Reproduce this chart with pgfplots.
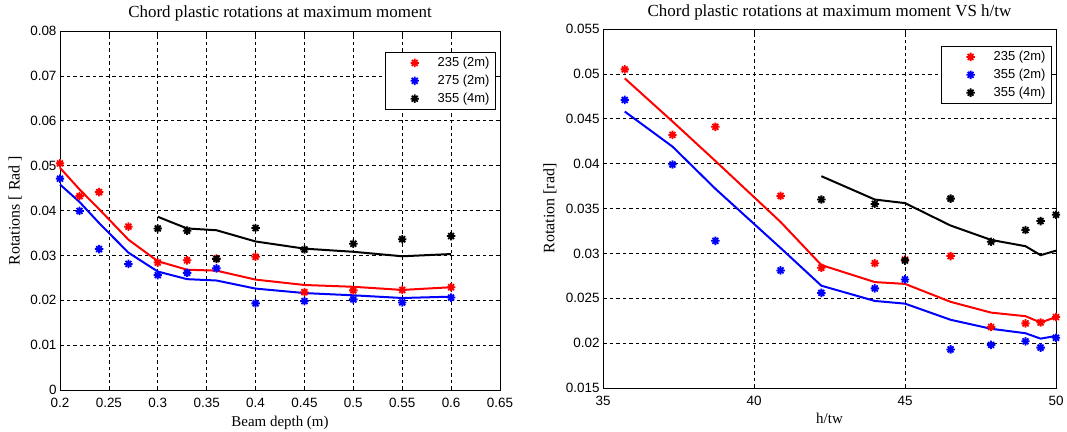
\documentclass[border=0pt]{standalone}
\usepackage{fontspec}
\setmainfont{Liberation Sans}
\newfontfamily\tnr{Liberation Serif}
\usepackage{pgfplots}
\usepackage{pgfplotstable}
\pgfplotsset{compat=1.18}

% eight-armed star marker (plus and cross together)
\pgfdeclareplotmark{star8}{%
  \pgfpathmoveto{\pgfqpoint{-\pgfplotmarksize}{0pt}}%
  \pgfpathlineto{\pgfqpoint{\pgfplotmarksize}{0pt}}%
  \pgfpathmoveto{\pgfqpoint{0pt}{-\pgfplotmarksize}}%
  \pgfpathlineto{\pgfqpoint{0pt}{\pgfplotmarksize}}%
  \pgfpathmoveto{\pgfqpoint{-0.7\pgfplotmarksize}{-0.7\pgfplotmarksize}}%
  \pgfpathlineto{\pgfqpoint{0.7\pgfplotmarksize}{0.7\pgfplotmarksize}}%
  \pgfpathmoveto{\pgfqpoint{-0.7\pgfplotmarksize}{0.7\pgfplotmarksize}}%
  \pgfpathlineto{\pgfqpoint{0.7\pgfplotmarksize}{-0.7\pgfplotmarksize}}%
  \pgfusepathqstroke}

% d: beam depth (m), ht: h/tw, r/b/k: measured rotations, fr/fb/fk: fitted curves
\pgfplotstableread{
d    ht    r      b      k      fr     fb     fk
0.20 35.72 0.0505 0.0471 nan    0.0495 0.0458 nan
0.22 37.30 0.0432 0.0399 nan    0.0447 0.0419 nan
0.24 38.72 0.0441 0.0314 nan    0.0403 0.0372 nan
0.27 40.88 0.0364 0.0281 nan    0.0335 0.0306 nan
0.30 42.23 0.0284 0.0256 0.0360 0.0287 0.0264 0.0386
0.33 44.00 0.0289 0.0261 0.0355 0.0268 0.0247 0.0360
0.36 45.00 0.0293 0.0271 0.0292 0.0266 0.0244 0.0356
0.40 46.51 0.0297 0.0193 0.0361 0.0246 0.0226 0.0331
0.45 47.85 0.0218 0.0198 0.0313 0.0234 0.0216 0.0315
0.50 48.99 0.0222 0.0202 0.0326 0.0230 0.0211 0.0308
0.55 49.49 0.0223 0.0195 0.0336 0.0223 0.0205 0.0298
0.60 50.00 0.0229 0.0206 0.0343 0.0229 0.0208 0.0303
}\rotdata

\definecolor{mred}{RGB}{255,0,0}
\definecolor{mblue}{RGB}{0,0,255}

\pgfplotsset{
  mstyle/.style={
    scale only axis,
    anchor=south west,
    axis line style={black, line width=0.9bp},
    tick align=inside,
    major tick length=4bp,
    tick style={black, line width=0.6bp},
    grid=major,
    major grid style={black, line width=0.7bp, dash pattern=on 3.5bp off 3bp},
    ticklabel style={font=\fontsize{13.5}{13.5}\selectfont},
    xticklabel style={yshift=-4.5bp},
    /pgf/number format/assume math mode=true,
    /pgf/number format/fixed,
    scaled ticks=false,
    title style={font=\tnr\fontsize{17}{17}\selectfont, anchor=center, yshift=-6pt},
    xlabel style={font=\tnr\fontsize{15}{15}\selectfont, anchor=center},
    ylabel style={font=\tnr\fontsize{16}{16}\selectfont, anchor=center},
    legend style={draw=black, line width=1bp, fill=white,
      font=\fontsize{13}{15}\selectfont, anchor=north east,
      inner xsep=4bp, inner ysep=3bp, row sep=3bp},
    legend cell align=left,
    legend image code/.code={%
      \path[draw=none, fill=none] (0bp,-5bp) rectangle (46bp,5bp);
      \draw[mark repeat=2,mark phase=2,#1] plot coordinates {(0bp,0bp) (25bp,0bp) (46bp,0bp)};},
    clip=false,
    mk/.style={only marks, mark=star8, mark size=4.2bp, line width=1.8bp},
    fit/.style={line width=2bp, forget plot},
  }
}

\begin{document}
\begin{tikzpicture}
\path[use as bounding box] (0bp,0bp) rectangle (1067bp,432bp);

\begin{axis}[mstyle,
  at={(60bp,42bp)}, width=440bp, height=359bp,
  xmin=0.2, xmax=0.65, ymin=0, ymax=0.08,
  xtick={0.2,0.25,...,0.65}, ytick={0,0.01,...,0.08},
  xticklabel style={/pgf/number format/precision=2},
  yticklabel style={/pgf/number format/precision=2},
  title={Chord plastic rotations at maximum moment},
  title style={at={(axis description cs:0.5,1.050)}},
  xlabel={Beam depth (m)},
  xlabel style={at={(axis description cs:0.5,-0.092)}},
  ylabel={Rotations [ Rad ]},
  ylabel style={at={(axis description cs:-0.102,0.5)}},
  legend style={at={(0.991,0.9415)}},
]
\addplot[mk, color=mred]   table[x=d, y=r] {\rotdata};
\addlegendentry{235 (2m)}
\addplot[mk, color=mblue]  table[x=d, y=b] {\rotdata};
\addlegendentry{275 (2m)}
\addplot[mk, color=black]  table[x=d, y=k] {\rotdata};
\addlegendentry{355 (4m)}
\addplot[fit, color=mred]  table[x=d, y=fr] {\rotdata};
\addplot[fit, color=mblue] table[x=d, y=fb] {\rotdata};
\addplot[fit, color=black] table[x=d, y=fk] {\rotdata};
\end{axis}

\begin{axis}[mstyle,
  at={(603bp,44bp)}, width=453bp, height=359bp,
  xmin=35, xmax=50, ymin=0.015, ymax=0.055,
  xtick={35,40,45,50}, ytick={0.015,0.02,...,0.055},
  yticklabel style={/pgf/number format/precision=3},
  title={Chord plastic rotations at maximum moment VS h/tw},
  title style={at={(axis description cs:0.5,1.047)}},
  xlabel={h/tw},
  xlabel style={at={(axis description cs:0.5,-0.086)}},
  ylabel={Rotation [rad]},
  ylabel style={at={(axis description cs:-0.117,0.5)}},
  legend style={at={(0.991,0.9526)}},
]
\addplot[mk, color=mred]   table[x=ht, y=r] {\rotdata};
\addlegendentry{235 (2m)}
\addplot[mk, color=mblue]  table[x=ht, y=b] {\rotdata};
\addlegendentry{355 (2m)}
\addplot[mk, color=black]  table[x=ht, y=k] {\rotdata};
\addlegendentry{355 (4m)}
\addplot[fit, color=mred]  table[x=ht, y=fr] {\rotdata};
\addplot[fit, color=mblue] table[x=ht, y=fb] {\rotdata};
\addplot[fit, color=black] table[x=ht, y=fk] {\rotdata};
\end{axis}
\end{tikzpicture}
\end{document}
